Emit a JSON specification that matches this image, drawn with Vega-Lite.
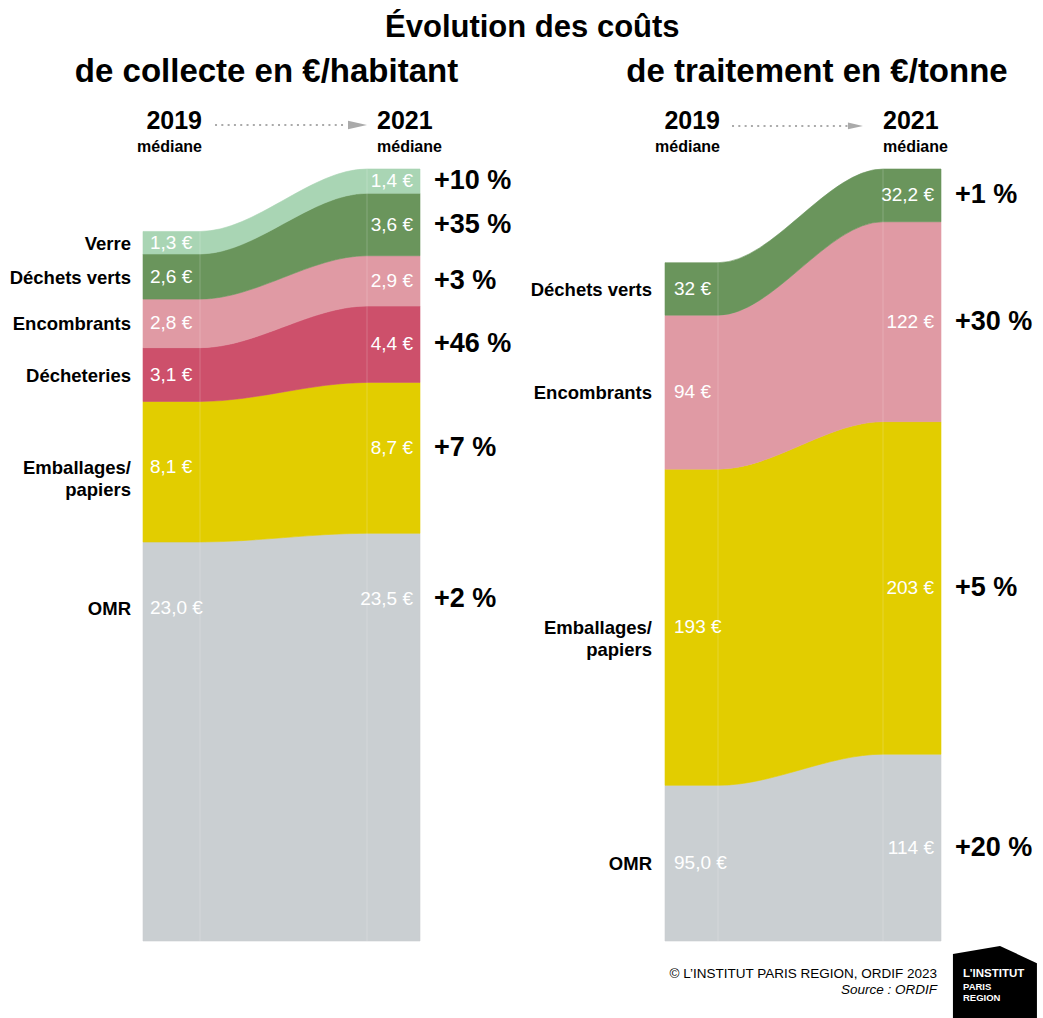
{
  "$schema": "https://vega.github.io/schema/vega-lite/v6.json",
  "background": "#ffffff",
  "padding": {"left": 9, "top": 12, "right": 5, "bottom": 0},
  "bounds": "flush",
  "spacing": 245,
  "config": {
    "view": {"stroke": null},
    "font": "Liberation Sans, Arial, sans-serif",
    "title": {"color": "#000000", "fontWeight": "bold"}
  },
  "title": {"text": "Évolution des coûts", "fontSize": 31, "anchor": "middle", "offset": 12, "dx": 9},
  "datasets": {
    "collecte": [
      {"cat": "OMR", "rang": 1, "annee": "2019", "t": 0, "v": 23.0, "lib": "23,0 €", "evol": "+2 %"},
      {"cat": "OMR", "rang": 1, "annee": "2019", "t": 1, "v": 23.0, "lib": "23,0 €", "evol": "+2 %"},
      {"cat": "OMR", "rang": 1, "annee": "2021", "t": 2, "v": 23.5, "lib": "23,5 €", "evol": "+2 %"},
      {"cat": "OMR", "rang": 1, "annee": "2021", "t": 3, "v": 23.5, "lib": "23,5 €", "evol": "+2 %"},
      {"cat": "Emballages/\npapiers", "rang": 2, "annee": "2019", "t": 0, "v": 8.1, "lib": "8,1 €", "evol": "+7 %"},
      {"cat": "Emballages/\npapiers", "rang": 2, "annee": "2019", "t": 1, "v": 8.1, "lib": "8,1 €", "evol": "+7 %"},
      {"cat": "Emballages/\npapiers", "rang": 2, "annee": "2021", "t": 2, "v": 8.7, "lib": "8,7 €", "evol": "+7 %"},
      {"cat": "Emballages/\npapiers", "rang": 2, "annee": "2021", "t": 3, "v": 8.7, "lib": "8,7 €", "evol": "+7 %"},
      {"cat": "Décheteries", "rang": 3, "annee": "2019", "t": 0, "v": 3.1, "lib": "3,1 €", "evol": "+46 %"},
      {"cat": "Décheteries", "rang": 3, "annee": "2019", "t": 1, "v": 3.1, "lib": "3,1 €", "evol": "+46 %"},
      {"cat": "Décheteries", "rang": 3, "annee": "2021", "t": 2, "v": 4.4, "lib": "4,4 €", "evol": "+46 %"},
      {"cat": "Décheteries", "rang": 3, "annee": "2021", "t": 3, "v": 4.4, "lib": "4,4 €", "evol": "+46 %"},
      {"cat": "Encombrants", "rang": 4, "annee": "2019", "t": 0, "v": 2.8, "lib": "2,8 €", "evol": "+3 %"},
      {"cat": "Encombrants", "rang": 4, "annee": "2019", "t": 1, "v": 2.8, "lib": "2,8 €", "evol": "+3 %"},
      {"cat": "Encombrants", "rang": 4, "annee": "2021", "t": 2, "v": 2.9, "lib": "2,9 €", "evol": "+3 %"},
      {"cat": "Encombrants", "rang": 4, "annee": "2021", "t": 3, "v": 2.9, "lib": "2,9 €", "evol": "+3 %"},
      {"cat": "Déchets verts", "rang": 5, "annee": "2019", "t": 0, "v": 2.6, "lib": "2,6 €", "evol": "+35 %"},
      {"cat": "Déchets verts", "rang": 5, "annee": "2019", "t": 1, "v": 2.6, "lib": "2,6 €", "evol": "+35 %"},
      {"cat": "Déchets verts", "rang": 5, "annee": "2021", "t": 2, "v": 3.6, "lib": "3,6 €", "evol": "+35 %"},
      {"cat": "Déchets verts", "rang": 5, "annee": "2021", "t": 3, "v": 3.6, "lib": "3,6 €", "evol": "+35 %"},
      {"cat": "Verre", "rang": 6, "annee": "2019", "t": 0, "v": 1.3, "lib": "1,3 €", "evol": "+10 %"},
      {"cat": "Verre", "rang": 6, "annee": "2019", "t": 1, "v": 1.3, "lib": "1,3 €", "evol": "+10 %"},
      {"cat": "Verre", "rang": 6, "annee": "2021", "t": 2, "v": 1.4, "lib": "1,4 €", "evol": "+10 %"},
      {"cat": "Verre", "rang": 6, "annee": "2021", "t": 3, "v": 1.4, "lib": "1,4 €", "evol": "+10 %"}
    ],
    "traitement": [
      {"cat": "OMR", "rang": 1, "annee": "2019", "t": 0, "v": 95, "lib": "95,0 €", "evol": "+20 %"},
      {"cat": "OMR", "rang": 1, "annee": "2019", "t": 1, "v": 95, "lib": "95,0 €", "evol": "+20 %"},
      {"cat": "OMR", "rang": 1, "annee": "2021", "t": 2, "v": 114, "lib": "114 €", "evol": "+20 %"},
      {"cat": "OMR", "rang": 1, "annee": "2021", "t": 3, "v": 114, "lib": "114 €", "evol": "+20 %"},
      {"cat": "Emballages/\npapiers", "rang": 2, "annee": "2019", "t": 0, "v": 193, "lib": "193 €", "evol": "+5 %"},
      {"cat": "Emballages/\npapiers", "rang": 2, "annee": "2019", "t": 1, "v": 193, "lib": "193 €", "evol": "+5 %"},
      {"cat": "Emballages/\npapiers", "rang": 2, "annee": "2021", "t": 2, "v": 203, "lib": "203 €", "evol": "+5 %"},
      {"cat": "Emballages/\npapiers", "rang": 2, "annee": "2021", "t": 3, "v": 203, "lib": "203 €", "evol": "+5 %"},
      {"cat": "Encombrants", "rang": 4, "annee": "2019", "t": 0, "v": 94, "lib": "94 €", "evol": "+30 %"},
      {"cat": "Encombrants", "rang": 4, "annee": "2019", "t": 1, "v": 94, "lib": "94 €", "evol": "+30 %"},
      {"cat": "Encombrants", "rang": 4, "annee": "2021", "t": 2, "v": 122, "lib": "122 €", "evol": "+30 %"},
      {"cat": "Encombrants", "rang": 4, "annee": "2021", "t": 3, "v": 122, "lib": "122 €", "evol": "+30 %"},
      {"cat": "Déchets verts", "rang": 5, "annee": "2019", "t": 0, "v": 32, "lib": "32 €", "evol": "+1 %"},
      {"cat": "Déchets verts", "rang": 5, "annee": "2019", "t": 1, "v": 32, "lib": "32 €", "evol": "+1 %"},
      {"cat": "Déchets verts", "rang": 5, "annee": "2021", "t": 2, "v": 32.2, "lib": "32,2 €", "evol": "+1 %"},
      {"cat": "Déchets verts", "rang": 5, "annee": "2021", "t": 3, "v": 32.2, "lib": "32,2 €", "evol": "+1 %"}
    ]
  },
  "hconcat": [
    {
      "title": {"text": "de collecte en €/habitant", "fontSize": 33, "anchor": "middle", "offset": 20, "dx": -15},
      "width": 277,
      "height": 772,
      "data": {"name": "collecte"},
      "transform": [
        {"stack": "v", "groupby": ["t"], "sort": [{"field": "rang", "order": "ascending"}], "as": ["v0", "v1"]},
        {"calculate": "max((datum.v0 + datum.v1) / 2, datum.v1 - 3.8)", "as": "ylab"}
      ],
      "layer": [
        {
          "mark": {"type": "area", "interpolate": "monotone", "strokeWidth": 0.6},
          "encoding": {
            "x": {"field": "t", "type": "quantitative", "scale": {"domain": [0, 1, 2, 3], "range": [0, 57, 224, 277], "nice": false, "zero": false}, "axis": null},
            "y": {"field": "v0", "type": "quantitative", "scale": {"domain": [0, 44.5], "nice": false}, "axis": null},
            "y2": {"field": "v1"},
            "color": {"field": "cat", "type": "nominal", "legend": null, "scale": {"domain": ["OMR", "Emballages/\npapiers", "Décheteries", "Encombrants", "Déchets verts", "Verre"], "range": ["#cacfd2", "#e2cd00", "#cd506b", "#e09aa4", "#6a955c", "#a9d5b4"]}},
            "stroke": {"field": "cat", "type": "nominal", "legend": null, "scale": {"domain": ["OMR", "Emballages/\npapiers", "Décheteries", "Encombrants", "Déchets verts", "Verre"], "range": ["#cacfd2", "#e2cd00", "#cd506b", "#e09aa4", "#6a955c", "#a9d5b4"]}}
          }
        },
        {
          "transform": [{"filter": "datum.t == 1 || datum.t == 2"}],
          "mark": {"type": "rule", "color": "#ffffff", "opacity": 0.2, "strokeWidth": 1},
          "encoding": {
            "x": {"field": "t", "type": "quantitative"},
            "y": {"field": "v0", "type": "quantitative"},
            "y2": {"field": "v1"}
          }
        },
        {
          "transform": [{"filter": "datum.t == 0"}],
          "mark": {"type": "text", "align": "right", "baseline": "top", "dx": -12, "dy": -8, "fontSize": 18.5, "fontWeight": "bold", "lineBreak": "\n", "lineHeight": 22, "color": "#000000"},
          "encoding": {
            "x": {"field": "t", "type": "quantitative"},
            "y": {"field": "ylab", "type": "quantitative"},
            "text": {"field": "cat"}
          }
        },
        {
          "transform": [{"filter": "datum.t == 0"}],
          "mark": {"type": "text", "align": "left", "baseline": "middle", "dx": 7, "fontSize": 19, "color": "#ffffff"},
          "encoding": {
            "x": {"field": "t", "type": "quantitative"},
            "y": {"field": "ylab", "type": "quantitative"},
            "text": {"field": "lib"}
          }
        },
        {
          "transform": [{"filter": "datum.t == 3"}],
          "mark": {"type": "text", "align": "right", "baseline": "middle", "dx": -7, "fontSize": 19, "color": "#ffffff"},
          "encoding": {
            "x": {"field": "t", "type": "quantitative"},
            "y": {"field": "ylab", "type": "quantitative"},
            "text": {"field": "lib"}
          }
        },
        {
          "transform": [{"filter": "datum.t == 3"}],
          "mark": {"type": "text", "align": "left", "baseline": "middle", "dx": 14, "fontSize": 27, "fontWeight": "bold", "color": "#000000"},
          "encoding": {
            "x": {"field": "t", "type": "quantitative"},
            "y": {"field": "ylab", "type": "quantitative"},
            "text": {"field": "evol"}
          }
        },
        {
          "transform": [{"filter": "datum.t == 1 && datum.rang == 1"}],
          "mark": {"type": "text", "align": "right", "baseline": "middle", "dx": 2, "dy": -48, "fontSize": 25, "fontWeight": "bold", "color": "#000000"},
          "encoding": {
            "x": {"field": "t", "type": "quantitative"},
            "y": {"datum": 44.5},
            "text": {"field": "annee"}
          }
        },
        {
          "transform": [{"filter": "datum.t == 1 && datum.rang == 1"}],
          "mark": {"type": "text", "align": "right", "baseline": "middle", "dx": 2, "dy": -22, "fontSize": 16, "fontWeight": "bold", "color": "#000000"},
          "encoding": {
            "x": {"field": "t", "type": "quantitative"},
            "y": {"datum": 44.5},
            "text": {"value": "médiane"}
          }
        },
        {
          "transform": [{"filter": "datum.t == 2 && datum.rang == 1"}],
          "mark": {"type": "text", "align": "left", "baseline": "middle", "dx": 10, "dy": -48, "fontSize": 25, "fontWeight": "bold", "color": "#000000"},
          "encoding": {
            "x": {"field": "t", "type": "quantitative"},
            "y": {"datum": 44.5},
            "text": {"field": "annee"}
          }
        },
        {
          "transform": [{"filter": "datum.t == 2 && datum.rang == 1"}],
          "mark": {"type": "text", "align": "left", "baseline": "middle", "dx": 10, "dy": -22, "fontSize": 16, "fontWeight": "bold", "color": "#000000"},
          "encoding": {
            "x": {"field": "t", "type": "quantitative"},
            "y": {"datum": 44.5},
            "text": {"value": "médiane"}
          }
        },
        {
          "transform": [{"filter": "datum.t == 1 && datum.rang == 1"}],
          "mark": {"type": "rule", "color": "#aaaaaa", "strokeWidth": 2, "strokeDash": [2, 4.3]},
          "encoding": {
            "x": {"datum": 1.09},
            "x2": {"datum": 1.868},
            "y": {"datum": 47.04}
          }
        },
        {
          "transform": [{"filter": "datum.t == 1 && datum.rang == 1"}],
          "mark": {"type": "point", "filled": true, "opacity": 1, "color": "#aaaaaa", "shape": "M-1,-0.45L1,0L-1,0.45Z", "size": 361},
          "encoding": {
            "x": {"datum": 1.943},
            "y": {"datum": 47.04}
          }
        }
      ]
    },
    {
      "title": {"text": "de traitement en €/tonne", "fontSize": 33, "anchor": "middle", "offset": 20, "dx": 14},
      "width": 276,
      "height": 772,
      "data": {"name": "traitement"},
      "transform": [
        {"stack": "v", "groupby": ["t"], "sort": [{"field": "rang", "order": "ascending"}], "as": ["v0", "v1"]},
        {"calculate": "(datum.v0 + datum.v1) / 2", "as": "ylab"}
      ],
      "layer": [
        {
          "mark": {"type": "area", "interpolate": "monotone", "strokeWidth": 0.6},
          "encoding": {
            "x": {"field": "t", "type": "quantitative", "scale": {"domain": [0, 1, 2, 3], "range": [0, 53, 218, 276], "nice": false, "zero": false}, "axis": null},
            "y": {"field": "v0", "type": "quantitative", "scale": {"domain": [0, 471.2], "nice": false}, "axis": null},
            "y2": {"field": "v1"},
            "color": {"field": "cat", "type": "nominal", "legend": null, "scale": {"domain": ["OMR", "Emballages/\npapiers", "Encombrants", "Déchets verts"], "range": ["#cacfd2", "#e2cd00", "#e09aa4", "#6a955c"]}},
            "stroke": {"field": "cat", "type": "nominal", "legend": null, "scale": {"domain": ["OMR", "Emballages/\npapiers", "Encombrants", "Déchets verts"], "range": ["#cacfd2", "#e2cd00", "#e09aa4", "#6a955c"]}}
          }
        },
        {
          "transform": [{"filter": "datum.t == 1 || datum.t == 2"}],
          "mark": {"type": "rule", "color": "#ffffff", "opacity": 0.2, "strokeWidth": 1},
          "encoding": {
            "x": {"field": "t", "type": "quantitative"},
            "y": {"field": "v0", "type": "quantitative"},
            "y2": {"field": "v1"}
          }
        },
        {
          "transform": [{"filter": "datum.t == 0"}],
          "mark": {"type": "text", "align": "right", "baseline": "top", "dx": -13, "dy": -8, "fontSize": 18.5, "fontWeight": "bold", "lineBreak": "\n", "lineHeight": 22, "color": "#000000"},
          "encoding": {
            "x": {"field": "t", "type": "quantitative"},
            "y": {"field": "ylab", "type": "quantitative"},
            "text": {"field": "cat"}
          }
        },
        {
          "transform": [{"filter": "datum.t == 0"}],
          "mark": {"type": "text", "align": "left", "baseline": "middle", "dx": 9, "fontSize": 19, "color": "#ffffff"},
          "encoding": {
            "x": {"field": "t", "type": "quantitative"},
            "y": {"field": "ylab", "type": "quantitative"},
            "text": {"field": "lib"}
          }
        },
        {
          "transform": [{"filter": "datum.t == 3"}],
          "mark": {"type": "text", "align": "right", "baseline": "middle", "dx": -7, "fontSize": 19, "color": "#ffffff"},
          "encoding": {
            "x": {"field": "t", "type": "quantitative"},
            "y": {"field": "ylab", "type": "quantitative"},
            "text": {"field": "lib"}
          }
        },
        {
          "transform": [{"filter": "datum.t == 3"}],
          "mark": {"type": "text", "align": "left", "baseline": "middle", "dx": 14, "fontSize": 27, "fontWeight": "bold", "color": "#000000"},
          "encoding": {
            "x": {"field": "t", "type": "quantitative"},
            "y": {"field": "ylab", "type": "quantitative"},
            "text": {"field": "evol"}
          }
        },
        {
          "transform": [{"filter": "datum.t == 1 && datum.rang == 1"}],
          "mark": {"type": "text", "align": "right", "baseline": "middle", "dx": 2, "dy": -48, "fontSize": 25, "fontWeight": "bold", "color": "#000000"},
          "encoding": {
            "x": {"field": "t", "type": "quantitative"},
            "y": {"datum": 471.2},
            "text": {"field": "annee"}
          }
        },
        {
          "transform": [{"filter": "datum.t == 1 && datum.rang == 1"}],
          "mark": {"type": "text", "align": "right", "baseline": "middle", "dx": 2, "dy": -22, "fontSize": 16, "fontWeight": "bold", "color": "#000000"},
          "encoding": {
            "x": {"field": "t", "type": "quantitative"},
            "y": {"datum": 471.2},
            "text": {"value": "médiane"}
          }
        },
        {
          "transform": [{"filter": "datum.t == 2 && datum.rang == 1"}],
          "mark": {"type": "text", "align": "left", "baseline": "middle", "dx": 0, "dy": -48, "fontSize": 25, "fontWeight": "bold", "color": "#000000"},
          "encoding": {
            "x": {"field": "t", "type": "quantitative"},
            "y": {"datum": 471.2},
            "text": {"field": "annee"}
          }
        },
        {
          "transform": [{"filter": "datum.t == 2 && datum.rang == 1"}],
          "mark": {"type": "text", "align": "left", "baseline": "middle", "dx": 0, "dy": -22, "fontSize": 16, "fontWeight": "bold", "color": "#000000"},
          "encoding": {
            "x": {"field": "t", "type": "quantitative"},
            "y": {"datum": 471.2},
            "text": {"value": "médiane"}
          }
        },
        {
          "transform": [{"filter": "datum.t == 1 && datum.rang == 1"}],
          "mark": {"type": "rule", "color": "#aaaaaa", "strokeWidth": 2, "strokeDash": [2, 4.3]},
          "encoding": {
            "x": {"datum": 1.085},
            "x2": {"datum": 1.788},
            "y": {"datum": 497.5}
          }
        },
        {
          "transform": [{"filter": "datum.t == 1 && datum.rang == 1"}],
          "mark": {"type": "point", "filled": true, "opacity": 1, "color": "#aaaaaa", "shape": "M-1,-0.45L1,0L-1,0.45Z", "size": 225},
          "encoding": {
            "x": {"datum": 1.833},
            "y": {"datum": 497.5}
          }
        },
        {
          "transform": [{"filter": "datum.t == 3 && datum.rang == 1"}],
          "mark": {"type": "text", "align": "right", "baseline": "middle", "dx": -4, "dy": 33, "fontSize": 13.5, "color": "#000000"},
          "encoding": {
            "x": {"field": "t", "type": "quantitative"},
            "y": {"datum": 0},
            "text": {"value": "© L’INSTITUT PARIS REGION, ORDIF 2023"}
          }
        },
        {
          "transform": [{"filter": "datum.t == 3 && datum.rang == 1"}],
          "mark": {"type": "text", "align": "right", "baseline": "middle", "dx": -4, "dy": 49, "fontSize": 13.5, "fontStyle": "italic", "color": "#000000"},
          "encoding": {
            "x": {"field": "t", "type": "quantitative"},
            "y": {"datum": 0},
            "text": {"value": "Source : ORDIF"}
          }
        },
        {
          "transform": [{"filter": "datum.t == 3 && datum.rang == 1"}],
          "mark": {"type": "point", "filled": true, "opacity": 1, "color": "#000000", "shape": "M-1,-0.68L0.12,-0.87L1,-0.46L1,0.87L-1,0.87Z", "size": 7056},
          "encoding": {
            "x": {"datum": 3.93},
            "y": {"datum": -25.33}
          }
        },
        {
          "transform": [{"filter": "datum.t == 3 && datum.rang == 1"}],
          "mark": {"type": "text", "align": "left", "baseline": "middle", "dx": 22, "dy": 33, "fontSize": 11.5, "fontWeight": "bold", "color": "#ffffff"},
          "encoding": {
            "x": {"field": "t", "type": "quantitative"},
            "y": {"datum": 0},
            "text": {"value": "L’INSTITUT"}
          }
        },
        {
          "transform": [{"filter": "datum.t == 3 && datum.rang == 1"}],
          "mark": {"type": "text", "align": "left", "baseline": "top", "dx": 22, "dy": 41, "fontSize": 9.5, "fontWeight": "bold", "lineBreak": "\n", "lineHeight": 10.5, "color": "#ffffff"},
          "encoding": {
            "x": {"field": "t", "type": "quantitative"},
            "y": {"datum": 0},
            "text": {"value": "PARIS\nREGION"}
          }
        }
      ]
    }
  ]
}
